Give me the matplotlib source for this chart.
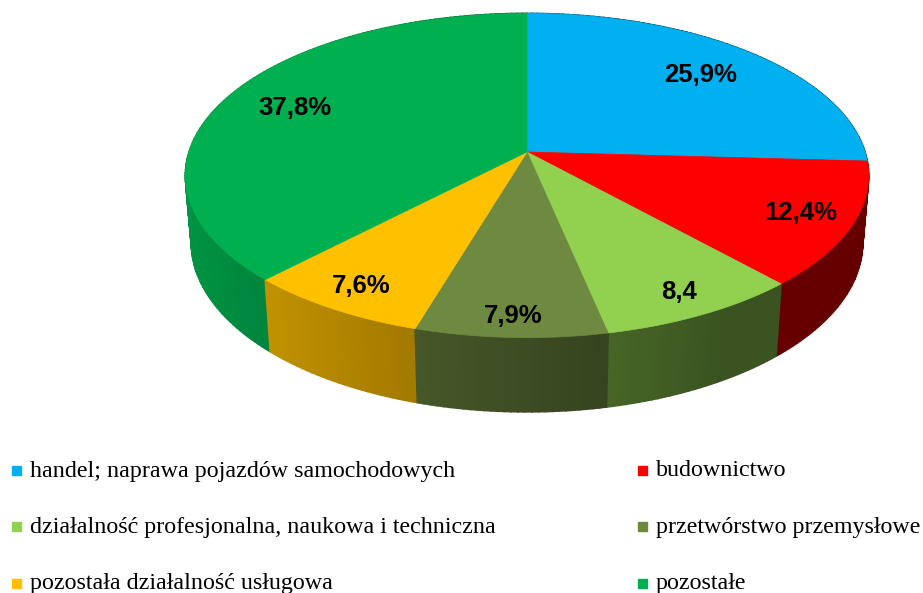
import numpy as np
import matplotlib.pyplot as plt
from matplotlib.colors import to_rgb

categories = ['handel; naprawa pojazdów samochodowych', 'budownictwo',
              'działalność profesjonalna, naukowa i techniczna', 'przetwórstwo przemysłowe',
              'pozostała działalność usługowa', 'pozostałe']
shares = [25.9, 12.4, 8.4, 7.9, 7.6, 37.8]
value_labels = ['25,9%', '12,4%', '8,4', '7,9%', '7,6%', '37,8%']

colors = ['#00b0f0', '#ff0000', '#92d050', '#6e8a40', '#ffc000', '#00b050']
label_radius = [0.76, 0.85, 0.88, 0.9, 0.87, 0.77]

# geometry of the tilted disc (pixels), perspective camera
CX, CY, R = 527, 152, 338
TILT = np.radians(28)
DIST = 6.09
THICK = 0.228


def project(theta, r=1.0, z=0.0):
    x = r * np.sin(theta)
    y = r * np.cos(theta)
    c = -y * np.cos(TILT) + z * np.sin(TILT)
    u = y * np.sin(TILT) + z * np.cos(TILT)
    s = DIST / (DIST - c)
    return CX + R * x * s, CY - R * u * s


def depth(theta):
    return -np.cos(theta) * np.cos(TILT)


def shade(theta):
    return np.clip(0.55 - 0.3 * np.sin(theta), 0.4, 0.9)


fig = plt.figure(figsize=(9.23, 5.93), dpi=100)
ax = fig.add_axes([0, 0, 1, 1])
ax.set_xlim(0, 923)
ax.set_ylim(593, 0)
ax.axis('off')

edges = np.radians(np.concatenate([[0], np.cumsum(shares)]) * 3.6)

# side wall, painted back to front in small pieces
pieces = []
for i in range(len(shares)):
    n = max(int(np.degrees(edges[i + 1] - edges[i])), 2)
    t = np.linspace(edges[i], edges[i + 1], n + 1)
    for a, b in zip(t[:-1], t[1:]):
        pieces.append((depth((a + b) / 2), a, b, i))
pieces.sort()
for d, a, b, i in pieces:
    xa, ya = project(a)
    xb, yb = project(b)
    xa2, ya2 = project(a, z=-THICK)
    xb2, yb2 = project(b, z=-THICK)
    col = np.array(to_rgb(colors[i])) * shade((a + b) / 2)
    ax.fill([xa, xb, xb2, xa2], [ya, yb, yb2, ya2], color=col, lw=1.2, ec=col)

# top faces
for i in range(len(shares)):
    t = np.linspace(edges[i], edges[i + 1], 200)
    px, py = project(t)
    ax.fill(np.r_[CX, px], np.r_[CY, py], color=colors[i], lw=0.5, ec=colors[i])

for i in range(len(shares)):
    mid = (edges[i] + edges[i + 1]) / 2
    lx, ly = project(mid, r=label_radius[i])
    ax.text(lx, ly, value_labels[i], ha='center', va='center', fontsize=18.5,
            fontweight='bold', family='Liberation Sans', color='black')

# legend, two columns filled row by row
col_x = [12, 638]
row_y = [470, 526, 583]
for i, name in enumerate(categories):
    x0 = col_x[i % 2]
    y0 = row_y[i // 2]
    ax.add_patch(plt.Rectangle((x0, y0 - 4.5), 9, 9, color=colors[i]))
    ax.text(x0 + 18, y0 + 1, name, ha='left', va='center', fontsize=17.3,
            family='Liberation Serif', color='black')

fig.savefig('out.png', dpi=100)
